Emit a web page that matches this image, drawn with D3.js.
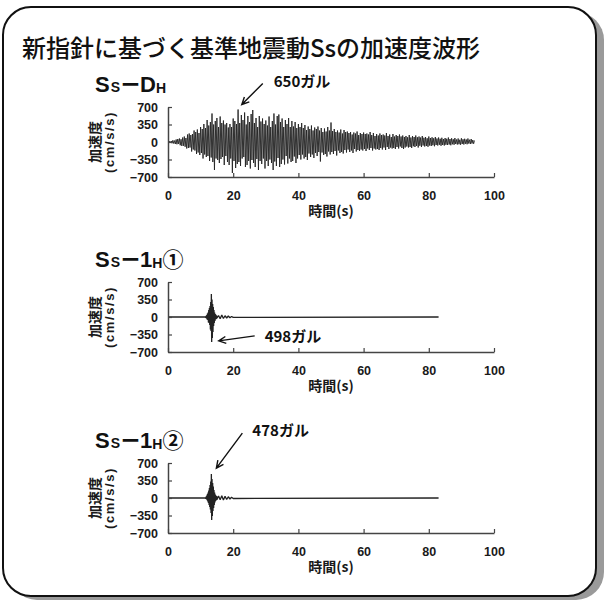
<!DOCTYPE html>
<html>
<head>
<meta charset="utf-8">
<script src="https://cdn.jsdelivr.net/npm/d3@7"></script>
<style>
body{margin:0;background:#fff;}
</style>
</head>
<body>
<svg id="canvas"></svg>
<script>
// axis ticks
let timeTicks=[0,20,40,60,80,100];
let accTicks=[700,350,0,-350,-700];

// Ss-DH : one reading every 0.25 s starting at 0 s (gal)
let dhStep=0.25;
let dhAcc=[
0,-8,15,-12,20,-25,35,-30,28,-40,50,-45,60,-38,70,-65,55,-80,90,-75,
110,-95,80,-130,150,-120,170,-110,140,-190,160,-150,230,-170,200,-240,250,-210,180,-260,
300,-220,260,-330,360,-250,280,-300,440,-280,330,-380,400,-310,570,-400,350,-560,420,-330,
480,-360,300,-420,510,-340,380,-300,430,-460,350,-280,380,-400,290,-460,360,-330,300,-620,
470,-380,420,-520,360,-440,650,-400,380,-480,540,-330,440,-300,590,-500,350,-460,520,-380,
400,-530,560,-360,640,-420,380,-500,480,-340,300,-560,520,-380,410,-440,470,-330,360,-530,
430,-380,330,-480,510,-350,300,-420,420,-560,570,-390,350,-480,520,-320,550,-500,400,-440,
470,-350,300,-450,440,-280,360,-430,480,-330,300,-400,420,-380,310,-290,400,-420,280,-330,
360,-260,300,-350,380,-250,280,-330,340,-300,240,-360,310,-230,260,-300,330,-250,230,-320,
290,-220,260,-280,310,-200,230,-390,280,-210,200,-260,270,-240,210,-290,300,-190,230,-250,
390,-200,220,-240,260,-180,200,-270,230,-170,190,-220,250,-200,170,-230,240,-160,200,-210,
210,-150,180,-200,200,-170,150,-220,190,-140,170,-190,210,-160,140,-180,180,-150,160,-170,
190,-140,160,-180,170,-130,150,-160,200,-120,140,-170,180,-130,120,-150,160,-140,130,-160,
170,-120,140,-150,150,-110,130,-160,180,-100,120,-140,150,-110,100,-130,160,-120,110,-140,
140,-100,120,-130,150,-90,110,-120,130,-140,100,-110,120,-90,95,-110,140,-100,90,-120,
120,-85,100,-100,130,-80,95,-110,110,-75,90,-100,120,-70,85,-90,100,-80,75,-95,
110,-70,80,-80,95,-65,75,-85,100,-60,70,-70,90,-55,65,-75,85,-60,60,-70,
80,-55,65,-60,90,-50,60,-65,75,-45,55,-55,80,-40,50,-50,70,-45,45,-55,
75,-40,55,-50,65,-35,50,-45,70,-30,45,-40,60,-30,40,-35,30
];

// Ss-1H(1)
let h1Time=[0,11.4,
11.5,11.6,11.7,11.8,11.9,12.0,12.1,12.2,12.3,12.4,
12.5,12.6,12.7,12.8,12.9,13.0,13.1,13.2,13.3,13.4,
13.5,13.6,13.7,13.8,13.9,14.0,14.1,14.2,14.3,14.4,
14.5,14.6,14.7,14.8,14.9,15.0,
15.5,16,16.5,17,17.5,18,18.5,19,19.5,20,83];
let h1Acc=[0,0,
10,-15,25,-30,40,-50,70,-60,90,-110,
140,-120,180,-160,220,-250,300,-280,460,-498,
350,-420,260,-300,200,-180,140,-120,90,-80,
60,-50,45,-40,30,-25,
30,-35,40,-30,25,-20,20,-15,10,-8,0];

// Ss-1H(2)
let h2Time=[0,11.4,
11.5,11.6,11.7,11.8,11.9,12.0,12.1,12.2,12.3,12.4,
12.5,12.6,12.7,12.8,12.9,13.0,13.1,13.2,13.3,13.4,
13.5,13.6,13.7,13.8,13.9,14.0,14.1,14.2,14.3,14.4,
14.5,14.6,14.7,14.8,14.9,15.0,
15.5,16,16.5,17,17.5,18,18.5,19,19.5,20,83];
let h2Acc=[0,0,
10,-15,30,-25,50,-45,80,-70,110,-100,
150,-140,200,-180,260,-230,330,-300,478,-440,
380,-360,300,-260,230,-200,160,-140,110,-90,
70,-60,50,-45,40,-35,
40,-35,45,-40,35,-30,25,-20,15,-10,0];

let width=605;
let height=600;

let canvas=d3.select('#canvas')
canvas.attr('width',width).attr('height',height)

let jp='"Noto Sans CJK JP","Noto Sans",sans-serif';
let lat='"Liberation Sans",Arial,sans-serif';

// card with shadow
canvas.append('rect')
  .attr('x',9).attr('y',12).attr('width',595).attr('height',588)
  .attr('rx',28).attr('fill','#9a9a9a')
canvas.append('rect')
  .attr('x',3).attr('y',7).attr('width',593).attr('height',589)
  .attr('rx',28).attr('fill','#fff').attr('stroke','#111').attr('stroke-width',2)

canvas.append('text')
  .attr('x',22).attr('y',57)
  .attr('font-family',jp).attr('font-size',24).attr('font-weight',500)
  .attr('fill','#111')
  .text('新指針に基づく基準地震動Ssの加速度波形')

let xScale=d3.scaleLinear().domain([0,100]).range([168,494])

let panels=[
  {top:107, acc:dhAcc, times:dhAcc.map((v,i)=>i*dhStep), width:0.9,
   title:['S','S','ー','D','H',''], peak:[21.4,650], tip:[4,-5], tail:[21,-21], label:'650ガル', lab:[11,-2]},
  {top:282, acc:h1Acc, times:h1Time, width:1.3,
   title:['S','S','ー','1','H','①'], peak:[13.4,-498], tip:[7,-1], tail:[36,-5], label:'498ガル', lab:[10,1]},
  {top:463, acc:h2Acc, times:h2Time, width:1.3,
   title:['S','S','ー','1','H','②'], peak:[13.3,478], tip:[5,-6], tail:[26,-35], label:'478ガル', lab:[10,-3]}
]

let drawPanel=(p)=>{
  let yScale=d3.scaleLinear().domain([-700,700]).range([p.top+70,p.top])
  let g=canvas.append('g')

  // waveform
  let pts=p.acc.map((v,i)=>({t:p.times[i],v:v}))
  g.append('path')
    .datum(pts)
    .attr('fill','none')
    .attr('stroke','#222')
    .attr('stroke-width',p.width)
    .attr('stroke-linejoin','bevel')
    .attr('d',d3.line().x(d=>xScale(d.t)).y(d=>yScale(d.v)))

  let xAxis=d3.axisBottom(xScale).tickValues(timeTicks)
    .tickSizeInner(-4).tickSizeOuter(0).tickPadding(14).tickFormat(d3.format('d'))
  let xa=g.append('g').attr('transform','translate(0,'+(p.top+70)+')').call(xAxis)

  let yAxis=d3.axisLeft(yScale).tickValues(accTicks)
    .tickSizeInner(-4).tickSizeOuter(0).tickPadding(10).tickFormat(d3.format('d'))
  let ya=g.append('g').attr('transform','translate(168,0)').call(yAxis)

  ;[xa,ya].forEach(a=>{
    a.select('.domain').attr('stroke','#444').attr('stroke-width',1.5)
    a.selectAll('.tick line').attr('stroke','#444').attr('stroke-width',1.2)
    a.selectAll('.tick text').attr('font-family',lat).attr('font-weight','bold')
      .attr('font-size',12.5).attr('fill','#1a1a1a')
  })

  // axis titles
  let cy=p.top+35
  g.append('text')
    .attr('transform','translate(95,'+cy+') rotate(-90)')
    .attr('text-anchor','middle').attr('dy','0.36em')
    .attr('font-family',jp).attr('font-weight','bold').attr('font-size',14).attr('fill','#1a1a1a')
    .text('加速度')
  g.append('text')
    .attr('transform','translate(109,'+cy+') rotate(-90)')
    .attr('text-anchor','middle').attr('dy','0.36em')
    .attr('font-family',lat).attr('font-weight','bold').attr('font-size',13).attr('fill','#1a1a1a')
    .attr('letter-spacing',1.6)
    .text('(cm/s/s)')
  g.append('text')
    .attr('x',331).attr('y',p.top+70+39)
    .attr('text-anchor','middle')
    .attr('font-family',jp).attr('font-weight','bold').attr('font-size',14).attr('fill','#1a1a1a')
    .text('時間(s)')

  // panel title
  let t=g.append('text').attr('x',95).attr('y',p.top-15).attr('fill','#111').attr('font-weight','bold')
  t.append('tspan').attr('font-family',lat).attr('font-size',22).text(p.title[0])
  t.append('tspan').attr('font-family',lat).attr('font-size',14).attr('dx',1).text(p.title[1])
  t.append('tspan').attr('font-family',jp).attr('font-size',19).attr('dx',1).text(p.title[2])
  t.append('tspan').attr('font-family',lat).attr('font-size',22).text(p.title[3])
  t.append('tspan').attr('font-family',lat).attr('font-size',14).attr('dy',1).text(p.title[4])
  t.append('tspan').attr('font-family',jp).attr('font-size',21).attr('dy',-1).text(p.title[5])

  // annotation arrow
  let tx=xScale(p.peak[0])+p.tip[0], ty=yScale(p.peak[1])+p.tip[1]
  let sx=tx+p.tail[0], sy=ty+p.tail[1]
  let ang=Math.atan2(sy-ty,sx-tx)
  let head=8, spread=0.45
  g.append('path')
    .attr('fill','none').attr('stroke','#111').attr('stroke-width',1.4)
    .attr('d','M'+sx+','+sy+'L'+tx+','+ty
      +'M'+(tx+head*Math.cos(ang+spread))+','+(ty+head*Math.sin(ang+spread))
      +'L'+tx+','+ty
      +'L'+(tx+head*Math.cos(ang-spread))+','+(ty+head*Math.sin(ang-spread)))
  g.append('text')
    .attr('x',sx+p.lab[0]).attr('y',sy+p.lab[1]).attr('dy','0.36em')
    .attr('font-family',jp).attr('font-weight','bold').attr('font-size',15).attr('fill','#111')
    .text(p.label)
}

panels.forEach(drawPanel)
</script>
</body>
</html>
